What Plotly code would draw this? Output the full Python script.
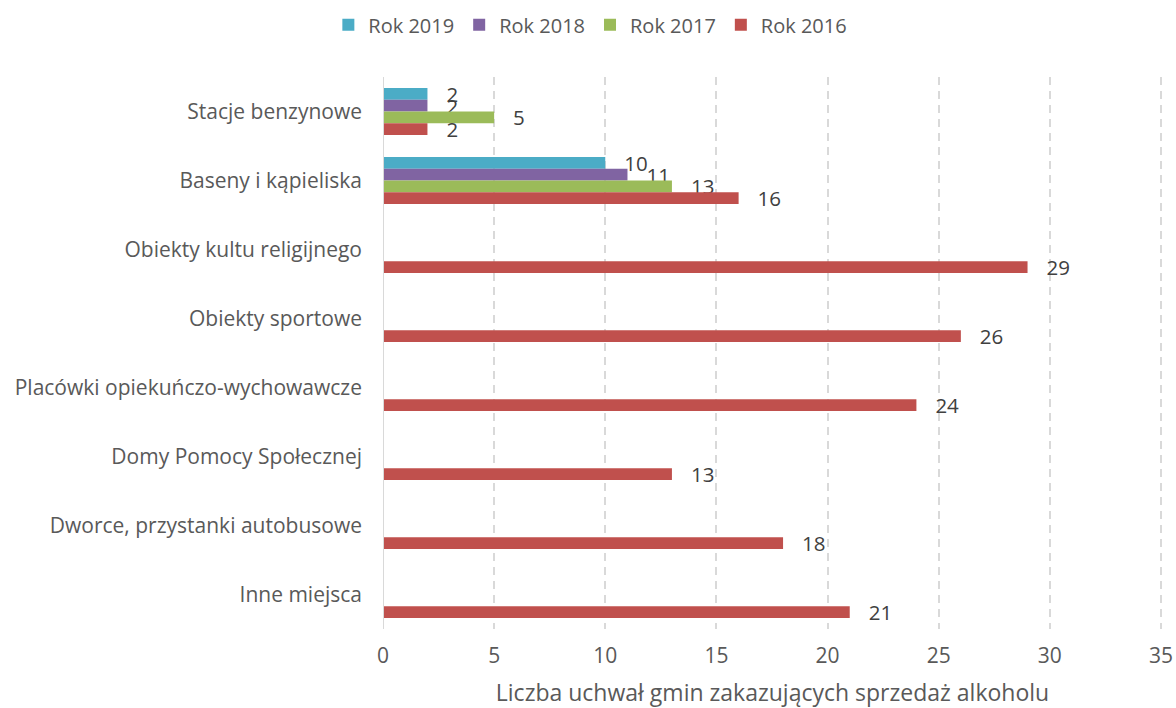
import plotly.graph_objects as go

categories = ["Stacje benzynowe", "Baseny i kąpieliska", "Obiekty kultu religijnego",
              "Obiekty sportowe", "Placówki opiekuńczo-wychowawcze", "Domy Pomocy Społecznej",
              "Dworce, przystanki autobusowe", "Inne miejsca"]
series_names = ["Rok 2019", "Rok 2018", "Rok 2017", "Rok 2016"]
rok2019 = [2, 10, None, None, None, None, None, None]
rok2018 = [2, 11, None, None, None, None, None, None]
rok2017 = [5, 13, None, None, None, None, None, None]
rok2016 = [2, 16, 29, 26, 24, 13, 18, 21]
colors = ["#4BACC6", "#8064A2", "#9BBB59", "#C0504D"]
x_ticks = [0, 5, 10, 15, 20, 25, 30, 35]

FONT = "Open Sans"
fig = go.Figure()
for name, vals, col in zip(series_names, [rok2019, rok2018, rok2017, rok2016], colors):
    fig.add_trace(go.Bar(
        y=categories, x=vals, name=name, orientation="h",
        marker=dict(color=col, line=dict(width=0)),
        text=[("\u00a0\u00a0\u00a0" + str(v)) if v is not None else "" for v in vals],
        textposition="outside", constraintext="none", cliponaxis=False,
        textfont=dict(family=FONT, size=20.5, color="#404040"),
    ))

fig.update_layout(
    width=1176, height=708,
    margin=dict(l=383, r=14, t=77, b=79, autoexpand=False),
    barmode="group", bargap=0.32, bargroupgap=0,
    plot_bgcolor="white", paper_bgcolor="white",
    font=dict(family=FONT, size=21, color="#595959"),
    legend=dict(orientation="h", xref="container", yref="container",
                x=0.502, xanchor="center", y=0.965, yanchor="middle",
                font=dict(family=FONT, size=20, color="#595959"), traceorder="normal",
                itemwidth=30),
    xaxis=dict(range=[0, 35.05], tickvals=x_ticks, showgrid=True, gridcolor="#D9D9D9",
               griddash="8px,6px", gridwidth=1.5, zeroline=False, showline=False,
               automargin=False,
               ticks="", ticklabelstandoff=12, ticklabeloverflow="allow",
               tickfont=dict(size=21, color="#595959"),
               title=dict(text="Liczba uchwał gmin zakazujących sprzedaż alkoholu",
                          font=dict(size=23, color="#595959"), standoff=20)),
    yaxis=dict(autorange="reversed", showgrid=False, showline=False, ticks="",
               automargin=False,
               ticklabelstandoff=20, tickfont=dict(size=21, color="#595959")),
    showlegend=True,
)
fig.add_shape(type="line", xref="x", yref="paper", x0=0, x1=0, y0=0, y1=1,
              line=dict(color="#D9D9D9", width=2))
fig.write_html("out.html", config={"displayModeBar": False},
               post_script="document.body.style.margin='0';")
